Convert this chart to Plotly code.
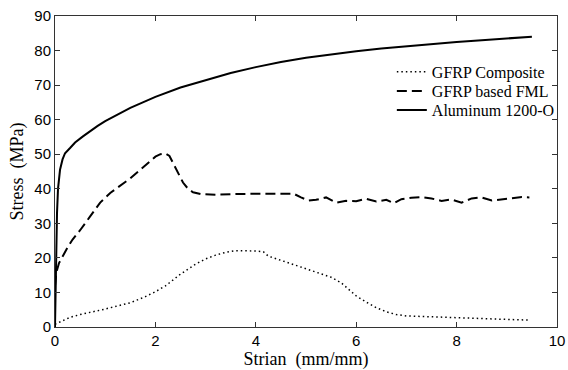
import plotly.graph_objects as go

al_x = [0, 0.01, 0.02, 0.04, 0.06, 0.1, 0.15, 0.2, 0.3, 0.4, 0.55, 0.7, 0.85, 1.0, 1.25, 1.5, 1.75, 2.0,
        2.5, 3.0, 3.5, 4.0, 4.5, 5.0, 5.5, 6.0, 6.5, 7.0, 7.5, 8.0, 8.5, 9.0, 9.5]
al_y = [0, 10, 22, 33, 40, 45.5, 48.5, 50.3, 51.8, 53.4, 55.1, 56.7, 58.2, 59.6, 61.6, 63.4, 65.0, 66.6,
        69.3, 71.5, 73.5, 75.2, 76.7, 77.9, 78.9, 79.8, 80.6, 81.3, 81.9, 82.5, 83.0, 83.5, 84.0]

fml_x = [0, 0.03, 0.08, 0.15, 0.25, 0.35, 0.5, 0.7, 0.9, 1.1, 1.3, 1.5, 1.7, 1.85, 2.0, 2.1, 2.2, 2.28,
         2.35, 2.45, 2.55, 2.65, 2.75, 2.9, 3.2, 3.6, 4.0, 4.4, 4.75, 4.9, 5.05, 5.2, 5.4, 5.6, 5.8, 6.0,
         6.2, 6.4, 6.6, 6.75, 6.9, 7.1, 7.3, 7.5, 7.7, 7.9, 8.1, 8.3, 8.5, 8.7, 8.9, 9.1, 9.3, 9.45]
fml_y = [12, 16, 18.5, 20.5, 23, 25.3, 28, 32, 36, 38.8, 40.8, 43, 45.5, 47.5, 49.3, 50, 50.2, 49.5,
         47.5, 44.5, 41.8, 40, 39, 38.5, 38.3, 38.5, 38.6, 38.6, 38.6, 37.5, 36.6, 36.8, 37.5, 36, 36.5, 36.4,
         37.1, 36.3, 36.8, 35.8, 37.0, 37.4, 37.6, 37.2, 36.5, 36.9, 36.0, 37.2, 37.5, 36.6, 36.9, 37.2, 37.6, 37.5]

gfrp_x = [0, 0.1, 0.3, 0.5, 0.8, 1.0, 1.3, 1.5, 1.8, 2.0, 2.2, 2.5, 2.8, 3.0, 3.2, 3.4, 3.6, 3.8, 4.0,
          4.15, 4.25, 4.5, 4.8, 5.0, 5.25, 5.5, 5.7, 5.85, 6.0, 6.2, 6.4, 6.6, 6.8, 7.0, 7.5, 8.0, 8.5, 9.0, 9.45]
gfrp_y = [0.8, 1.5, 2.8, 3.6, 4.5, 5.2, 6.3, 7.0, 8.8, 10.2, 11.9, 15.3, 18.2, 19.7, 20.8, 21.6, 22.1, 22.1, 22.0,
          21.8, 20.5, 19.3, 17.8, 16.8, 15.6, 14.4, 12.8, 10.8, 9.0, 7.2, 5.6, 4.4, 3.6, 3.2, 2.9, 2.6, 2.4, 2.2, 2.0]

fig = go.Figure()
fig.add_trace(go.Scatter(x=gfrp_x, y=gfrp_y, mode="lines", name="GFRP Composite", showlegend=True,
                         line=dict(color="black", width=1.5, dash="1.5px,3px")))
fig.add_trace(go.Scatter(x=fml_x, y=fml_y, mode="lines", name="GFRP based FML", legend="legend2",
                         showlegend=True, line=dict(color="black", width=2, dash="10px,5px")))
fig.add_trace(go.Scatter(x=al_x, y=al_y, mode="lines", name="Aluminum 1200-O", legend="legend3",
                         showlegend=True, line=dict(color="black", width=2)))

axis_common = dict(showline=True, linecolor="#333", linewidth=1, mirror="ticks", ticks="inside",
                   ticklen=5, tickcolor="#333", showgrid=False, zeroline=False, automargin=False,
                   ticklabeloverflow="allow",
                   tickfont=dict(family="Liberation Sans, Arial", size=15, color="black"))
fig.update_xaxes(range=[0, 10], dtick=2,
                 title=dict(text="Strian  (mm/mm)", standoff=20,
                            font=dict(family="Liberation Serif, Times New Roman", size=18, color="black")),
                 **axis_common)
fig.update_yaxes(range=[0, 90], dtick=10,
                 title=dict(text="Stress  (MPa)", standoff=6,
                            font=dict(family="Liberation Serif, Times New Roman", size=18, color="black")),
                 **axis_common)

leg_font = dict(family="Liberation Serif, Times New Roman", size=16, color="black")
leg_common = dict(x=0.671, xanchor="left", yanchor="top", bgcolor="rgba(0,0,0,0)",
                  font=leg_font, itemwidth=30)
fig.update_layout(
    width=568, height=370,
    margin=dict(l=55, r=8, t=16, b=43),
    plot_bgcolor="white", paper_bgcolor="white",
    showlegend=True,
    legend=dict(y=0.875, **leg_common),
    legend2=dict(y=0.8135, **leg_common),
    legend3=dict(y=0.752, **leg_common),
)
fig.write_html("out.html")
